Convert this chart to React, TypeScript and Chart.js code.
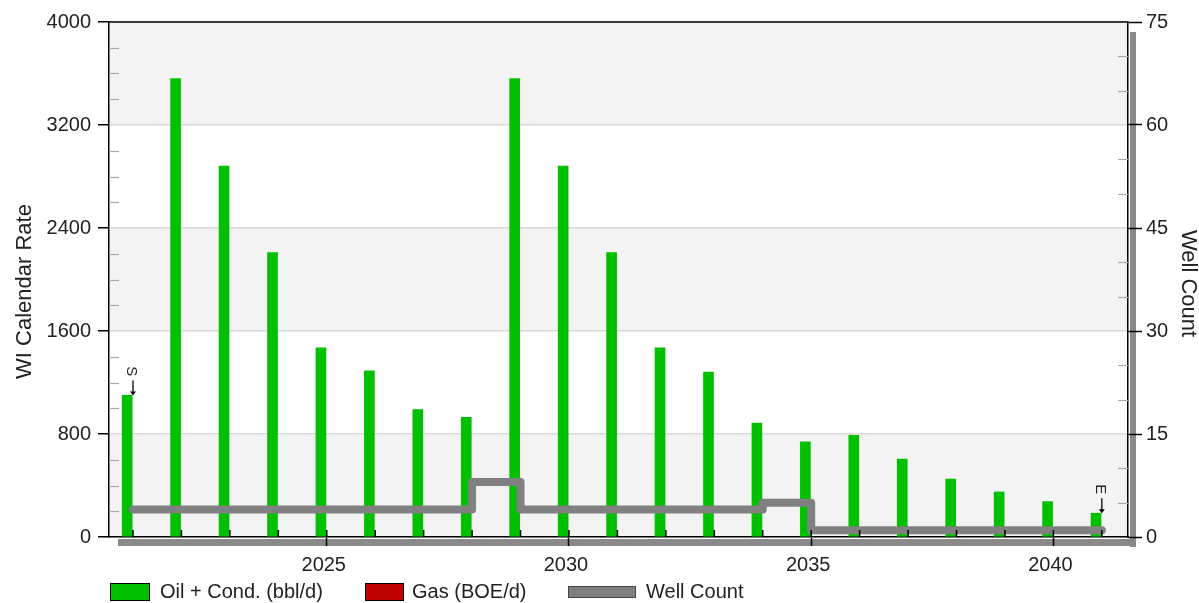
import React, { useEffect, useRef } from 'react';
import { Chart, registerables } from 'chart.js';

Chart.register(...registerables);

const years = [2021, 2022, 2023, 2024, 2025, 2026, 2027, 2028, 2029, 2030, 2031, 2032, 2033, 2034, 2035, 2036, 2037, 2038, 2039, 2040, 2041];
const oilRates = [1100, 3560, 2880, 2210, 1470, 1290, 990, 930, 3560, 2880, 2210, 1470, 1280, 885, 740, 790, 605, 450, 350, 275, 185];
const gasRates: number[] = [];
const wellCounts = [4, 4, 4, 4, 4, 4, 4, 8, 4, 4, 4, 4, 4, 5, 1, 1, 1, 1, 1, 1, 1];
const xTickYears = [2025, 2030, 2035, 2040];
const markerYears = [2021, 2041];
const markerLabels = ['S', 'E'];
const legendLabels = ['Oil + Cond. (bbl/d)', 'Gas (BOE/d)', 'Well Count'];
const leftTitle = 'WI Calendar Rate';
const rightTitle = 'Well Count';

const FONT = '"Liberation Sans", Arial, sans-serif';
const BAR_SHIFT = -0.12;
const GREEN = '#00c000';
const RED = '#c00000';
const GRAY = '#808080';
const TEXT = '#222';

const decorPlugin = {
  id: 'decor',
  beforeDraw(chart: any) {
    const { ctx, chartArea: a, scales } = chart;
    const y = scales.y;
    ctx.save();
    ctx.fillStyle = '#ffffff';
    ctx.fillRect(0, 0, chart.width, chart.height);
    const tv = y.ticks.map((t: any) => t.value);
    ctx.fillStyle = '#f3f3f3';
    for (let i = 0; i < tv.length - 1; i += 2) {
      const p0 = y.getPixelForValue(tv[i]);
      const p1 = y.getPixelForValue(tv[i + 1]);
      ctx.fillRect(a.left, p1, a.right - a.left, p0 - p1);
    }
    ctx.fillStyle = '#8a8a8a';
    ctx.fillRect(a.right + 2, a.top + 10, 6, a.bottom - a.top);
    ctx.fillRect(a.left + 9, a.bottom + 2, a.right - a.left - 1, 7);
    ctx.restore();
  },
  afterDatasetsDraw(chart: any) {
    const { ctx, chartArea: a, scales } = chart;
    const x = scales.x;
    const y = scales.y;
    const y1 = scales.y1;
    ctx.save();
    ctx.strokeStyle = '#000';
    ctx.lineWidth = 1.5;
    ctx.beginPath();
    ctx.moveTo(a.left, a.top);
    ctx.lineTo(a.right, a.top);
    ctx.stroke();
    ctx.strokeStyle = '#a8a8a8';
    ctx.lineWidth = 1.2;
    for (let v = 200; v < 4000; v += 200) {
      if (v % 800 === 0) continue;
      const p = Math.round(y.getPixelForValue(v)) + 0.5;
      ctx.beginPath();
      ctx.moveTo(a.left, p);
      ctx.lineTo(a.left + 10, p);
      ctx.stroke();
    }
    for (let v = 5; v < 75; v += 5) {
      if (v % 15 === 0) continue;
      const p = Math.round(y1.getPixelForValue(v)) + 0.5;
      ctx.beginPath();
      ctx.moveTo(a.right - 10, p);
      ctx.lineTo(a.right, p);
      ctx.stroke();
    }
    ctx.strokeStyle = '#000';
    ctx.lineWidth = 1.5;
    years.forEach((yr) => {
      const p = x.getPixelForValue(yr);
      ctx.beginPath();
      ctx.moveTo(p, a.bottom);
      ctx.lineTo(p, a.bottom - 7);
      ctx.stroke();
    });
    markerYears.forEach((yr, i) => {
      const idx = years.indexOf(yr);
      const px = x.getPixelForValue(yr);
      const tip = y.getPixelForValue(oilRates[idx]);
      ctx.strokeStyle = '#000';
      ctx.fillStyle = '#000';
      ctx.lineWidth = 1.3;
      ctx.beginPath();
      ctx.moveTo(px, tip - 15);
      ctx.lineTo(px, tip - 2);
      ctx.stroke();
      ctx.beginPath();
      ctx.moveTo(px - 3, tip - 4);
      ctx.lineTo(px + 3, tip - 4);
      ctx.lineTo(px, tip);
      ctx.closePath();
      ctx.fill();
      ctx.save();
      ctx.translate(px - 2, tip - 24);
      ctx.rotate(Math.PI / 2);
      ctx.font = `15px ${FONT}`;
      ctx.textAlign = 'center';
      ctx.textBaseline = 'middle';
      ctx.fillStyle = TEXT;
      ctx.fillText(markerLabels[i], 0, 0);
      ctx.restore();
    });
    ctx.restore();
  },
  afterDraw(chart: any) {
    const { ctx, chartArea: a } = chart;
    ctx.save();
    // axis titles
    ctx.fillStyle = TEXT;
    ctx.font = `22px ${FONT}`;
    ctx.textAlign = 'center';
    ctx.textBaseline = 'middle';
    const midY = (a.top + a.bottom) / 2;
    ctx.save();
    ctx.translate(25, midY + 12);
    ctx.rotate(-Math.PI / 2);
    ctx.fillText(leftTitle, 0, 0);
    ctx.restore();
    ctx.save();
    ctx.translate(1188, midY + 4);
    ctx.rotate(Math.PI / 2);
    ctx.fillText(rightTitle, 0, 0);
    ctx.restore();
    // legend
    const cy = 592;
    ctx.font = `20px ${FONT}`;
    ctx.textAlign = 'left';
    ctx.textBaseline = 'middle';
    ctx.lineWidth = 1;
    ctx.strokeStyle = '#000';
    ctx.fillStyle = GREEN;
    ctx.fillRect(110.5, cy - 8.5, 39, 17);
    ctx.strokeRect(110.5, cy - 8.5, 39, 17);
    ctx.fillStyle = TEXT;
    ctx.fillText(legendLabels[0], 160, cy);
    ctx.fillStyle = RED;
    ctx.fillRect(365.5, cy - 8.5, 38, 17);
    ctx.strokeRect(365.5, cy - 8.5, 38, 17);
    ctx.fillStyle = TEXT;
    ctx.fillText(legendLabels[1], 412, cy);
    ctx.fillStyle = GRAY;
    ctx.strokeStyle = '#444';
    ctx.fillRect(568.5, cy - 5.5, 67, 11);
    ctx.strokeRect(568.5, cy - 5.5, 67, 11);
    ctx.fillStyle = TEXT;
    ctx.fillText(legendLabels[2], 646, cy);
    ctx.restore();
  },
};

export default function App() {
  const ref = useRef<HTMLCanvasElement | null>(null);
  useEffect(() => {
    if (!ref.current) return;
    const chart = new Chart(ref.current, {
      type: 'bar',
      data: {
        datasets: [
          {
            type: 'line',
            label: legendLabels[2],
            data: years.map((yr, i) => ({ x: yr, y: wellCounts[i] })),
            yAxisID: 'y1',
            xAxisID: 'x',
            stepped: true,
            borderColor: GRAY,
            borderWidth: 8,
            borderCapStyle: 'round',
            borderJoinStyle: 'round',
            pointRadius: 0,
            fill: false,
            order: 0,
          } as any,
          {
            type: 'bar',
            label: legendLabels[0],
            data: years.map((yr, i) => ({ x: yr + BAR_SHIFT, y: oilRates[i] })),
            backgroundColor: GREEN,
            borderWidth: 0,
            barThickness: 10,
            grouped: false,
            yAxisID: 'y',
            xAxisID: 'x',
            order: 1,
          } as any,
          {
            type: 'bar',
            label: legendLabels[1],
            data: gasRates,
            backgroundColor: RED,
            barThickness: 10,
            grouped: false,
            yAxisID: 'y',
            xAxisID: 'x',
            order: 2,
          } as any,
        ],
      },
      options: {
        animation: false,
        responsive: true,
        maintainAspectRatio: false,
        layout: { padding: { top: 22, left: 0, right: 0, bottom: 0 } },
        plugins: { legend: { display: false }, tooltip: { enabled: false } },
        scales: {
          x: {
            type: 'linear',
            position: 'bottom',
            min: 2020.505,
            max: 2041.54,
            offset: false,
            afterBuildTicks: (s: any) => {
              s.ticks = xTickYears.map((v) => ({ value: v }));
            },
            afterFit: (s: any) => {
              s.height = 66;
            },
            ticks: {
              font: { family: FONT, size: 20 },
              color: TEXT,
              padding: 7,
              labelOffset: -3,
              maxRotation: 0,
              callback: (v: any) => String(v),
            },
            grid: { display: true, offset: false, drawOnChartArea: false, tickLength: 9, tickColor: '#000', tickWidth: 1.5 },
            border: { display: true, color: '#000', width: 1.5 },
          },
          y: {
            type: 'linear',
            position: 'left',
            min: 0,
            max: 4000,
            ticks: {
              stepSize: 800,
              font: { family: FONT, size: 20 },
              color: TEXT,
              padding: 7,
              callback: (v: any) => String(v),
            },
            afterFit: (s: any) => {
              s.width = 109;
            },
            grid: { color: '#d8d8d8', lineWidth: 1.5, offset: false, tickLength: 11, tickColor: '#000', tickWidth: 1.5 },
            border: { display: true, color: '#000', width: 1.5 },
          },
          y1: {
            type: 'linear',
            position: 'right',
            min: 0,
            max: 75,
            ticks: {
              stepSize: 15,
              font: { family: FONT, size: 20 },
              color: TEXT,
              padding: 4,
              callback: (v: any) => String(v),
            },
            afterFit: (s: any) => {
              s.width = 71;
            },
            grid: { drawOnChartArea: false, offset: false, tickLength: 14, tickColor: '#000', tickWidth: 1.5 },
            border: { display: true, color: '#000', width: 1.5 },
          },
        },
      },
      plugins: [decorPlugin],
    });
    return () => chart.destroy();
  }, []);
  return (
    <div style={{ position: 'absolute', left: 0, top: 0, width: 1199, height: 603, background: '#fff' }}>
      <canvas ref={ref} />
    </div>
  );
}
